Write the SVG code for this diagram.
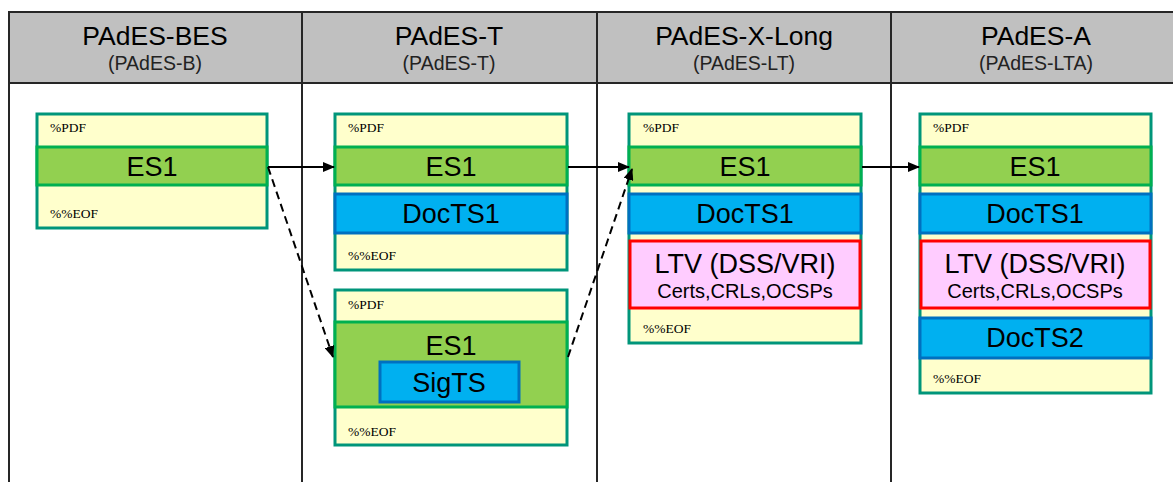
<svg xmlns="http://www.w3.org/2000/svg" width="1173" height="482" viewBox="0 0 1173 482">
<style>
.hdr{fill:#c0c0c0}
.grid{stroke:#262626;stroke-width:2;fill:none}
.t1{font-family:"Liberation Sans",Arial,sans-serif;font-size:26.5px;fill:#000;text-anchor:middle}
.t2{font-family:"Liberation Sans",Arial,sans-serif;font-size:19.5px;fill:#222;text-anchor:middle}
.doc{fill:#ffffcc;stroke:#00957a;stroke-width:3}
.es{fill:#92d050;stroke:#00b050;stroke-width:3}
.ts{fill:#00b0f0;stroke:#0070c0;stroke-width:3}
.ltv{fill:#ffccff;stroke:#ff0000;stroke-width:3}
.big{font-family:"Liberation Sans",Arial,sans-serif;font-size:27px;fill:#000;text-anchor:middle}
.small{font-family:"Liberation Sans",Arial,sans-serif;font-size:20px;fill:#000;text-anchor:middle}
.mk{font-family:"Liberation Serif","Times New Roman",serif;font-size:13.5px;fill:#000}
.conn{stroke:#000;stroke-width:2;fill:none}
.dash{stroke-dasharray:8,5}
</style>
<defs>
<marker id="ah" markerWidth="12" markerHeight="10" refX="11" refY="5" orient="auto" markerUnits="userSpaceOnUse">
<path d="M0,0 L12,5 L0,10 z" fill="#000"/>
</marker>
</defs>
<g id="table">
<rect class="hdr" x="8" y="12" width="1172" height="71"/>
<path class="grid" d="M8,12 H1180 M8,83 H1180 M9,12 V482 M302,12 V482 M597,12 V482 M891,12 V482"/>
<text class="t1" x="155" y="45">PAdES-BES</text>
<text class="t2" x="155" y="70">(PAdES-B)</text>
<text class="t1" x="449" y="45">PAdES-T</text>
<text class="t2" x="449" y="70">(PAdES-T)</text>
<text class="t1" x="744" y="45">PAdES-X-Long</text>
<text class="t2" x="744" y="70">(PAdES-LT)</text>
<text class="t1" x="1036" y="45">PAdES-A</text>
<text class="t2" x="1036" y="70">(PAdES-LTA)</text>
</g>
<g id="doc-bes">
<rect class="doc" x="37" y="114" width="230" height="114"/>
<text class="mk" x="50" y="132">%PDF</text>
<rect class="es" x="37" y="147" width="230" height="38"/>
<text class="big" x="152" y="176">ES1</text>
<text class="mk" x="50" y="218">%%EOF</text>
</g>
<g id="doc-t1">
<rect class="doc" x="335" y="114" width="232" height="156"/>
<text class="mk" x="348" y="132">%PDF</text>
<rect class="es" x="335" y="147" width="232" height="38"/>
<text class="big" x="451" y="176">ES1</text>
<rect class="ts" x="335" y="194" width="232" height="39"/>
<text class="big" x="451" y="223">DocTS1</text>
<text class="mk" x="348" y="260">%%EOF</text>
</g>
<g id="doc-t2">
<rect class="doc" x="335" y="290" width="232" height="155"/>
<text class="mk" x="348" y="309">%PDF</text>
<rect class="es" x="335" y="322" width="232" height="85"/>
<text class="big" x="451" y="355">ES1</text>
<rect class="ts" x="380" y="362" width="139" height="40"/>
<text class="big" x="449" y="392">SigTS</text>
<text class="mk" x="348" y="436">%%EOF</text>
</g>
<g id="doc-lt">
<rect class="doc" x="629" y="114" width="232" height="229"/>
<text class="mk" x="643" y="132">%PDF</text>
<rect class="es" x="629" y="147" width="232" height="38"/>
<text class="big" x="745" y="176">ES1</text>
<rect class="ts" x="629" y="194" width="232" height="39"/>
<text class="big" x="745" y="223">DocTS1</text>
<rect class="ltv" x="630" y="241" width="230" height="67"/>
<text class="big" x="745" y="273">LTV (DSS/VRI)</text>
<text class="small" x="745" y="298">Certs,CRLs,OCSPs</text>
<text class="mk" x="643" y="333">%%EOF</text>
</g>
<g id="doc-lta">
<rect class="doc" x="920" y="114" width="231" height="279"/>
<text class="mk" x="933" y="132">%PDF</text>
<rect class="es" x="920" y="147" width="231" height="38"/>
<text class="big" x="1035" y="176">ES1</text>
<rect class="ts" x="920" y="194" width="231" height="39"/>
<text class="big" x="1035" y="223">DocTS1</text>
<rect class="ltv" x="921" y="241" width="229" height="67"/>
<text class="big" x="1035" y="273">LTV (DSS/VRI)</text>
<text class="small" x="1035" y="298">Certs,CRLs,OCSPs</text>
<rect class="ts" x="920" y="318" width="231" height="40"/>
<text class="big" x="1035" y="347">DocTS2</text>
<text class="mk" x="933" y="383">%%EOF</text>
</g>
<g id="connectors">
<line class="conn" x1="268" y1="167" x2="334" y2="167" marker-end="url(#ah)"/>
<line class="conn dash" x1="268" y1="167" x2="333" y2="357" marker-end="url(#ah)"/>
<line class="conn" x1="568" y1="167" x2="629" y2="167" marker-end="url(#ah)"/>
<line class="conn dash" x1="568" y1="357" x2="632" y2="169" marker-end="url(#ah)"/>
<line class="conn" x1="862" y1="167" x2="919" y2="167" marker-end="url(#ah)"/>
</g>
</svg>
